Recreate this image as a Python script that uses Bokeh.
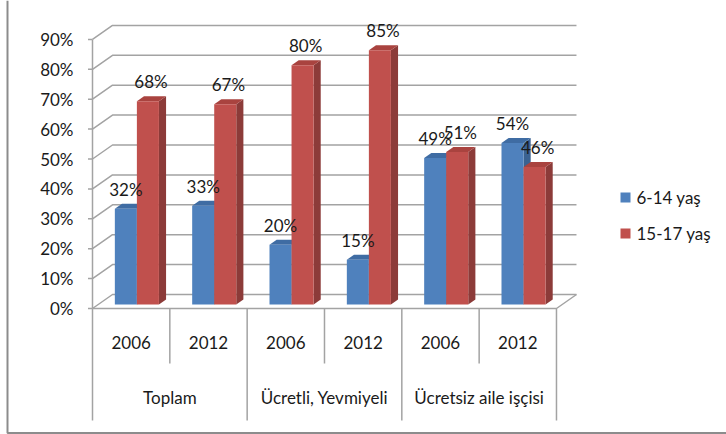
import numpy as np
from bokeh.plotting import figure
from bokeh.models import Range1d
from bokeh.embed import file_html
from bokeh.resources import INLINE
from bokeh.core.properties import value

# ---------------- data ----------------
groups = ["Toplam", "Ücretli, Yevmiyeli", "Ücretsiz aile işçisi"]
years = ["2006", "2012", "2006", "2012", "2006", "2012"]
series_names = ["6-14 yaş", "15-17 yaş"]
age_6_14 = [0.32, 0.33, 0.20, 0.15, 0.49, 0.54]
age_15_17 = [0.68, 0.67, 0.80, 0.85, 0.51, 0.46]
y_ticks = [0.0, 0.1, 0.2, 0.3, 0.4, 0.5, 0.6, 0.7, 0.8, 0.9]
y_tick_labels = ["0%", "10%", "20%", "30%", "40%", "50%", "60%", "70%", "80%", "90%"]

# ---------------- styling / geometry ----------------
FONT = value("Lato")
FS = "17px"
PX_X = 77.33          # pixels per category
PX_Y = 299.0          # pixels per 100%
X0_PX, Y0_PX = 92.0, 308.0   # front-axis origin within the frame
W, H = 726, 434
DX = 20.0 / PX_X      # depth vector (data units)
DY = 14.0 / PX_Y
D0 = 0.286            # bar front depth
DD = 0.357            # bar depth length
BW = 0.285            # bar width (category units)

BLUE = ("#4F81BD", "#3A6291", "#3F6CA3")   # front, side, top
RED = ("#C0504D", "#8C3B39", "#A9433F")
GRID = "#a3a3a3"
TXT = "#1a1a1a"

p = figure(width=W, height=H, output_backend="svg", toolbar_location=None,
           x_axis_location=None, y_axis_location=None, min_border=0,
           x_range=Range1d(-X0_PX / PX_X, (W - X0_PX) / PX_X),
           y_range=Range1d(-(H - Y0_PX) / PX_Y, Y0_PX / PX_Y))
p.outline_line_color = None
p.xgrid.visible = False
p.ygrid.visible = False
p.background_fill_color = "white"
p.border_fill_color = "white"

n = len(years)

# back wall grid + left wall diagonals
for t in y_ticks:
    p.line([0, DX, n + DX], [t, t + DY, t + DY], line_color=GRID, line_width=1.5)
    p.line([-4.5 / PX_X, 0], [t, t], line_color=GRID, line_width=1.5)
# value axis line
p.line([0, 0], [0, y_ticks[-1]], line_color=GRID, line_width=1.5)
# floor front edge and right edge
p.line([0, n, n + DX], [0, 0, DY], line_color=GRID, line_width=1.5)

# category dividers
for i in range(n + 1):
    depth = -112 / PX_Y if i % 2 == 0 else -55 / PX_Y
    p.line([i, i], [0, depth], line_color=GRID, line_width=1.5)

# bars
xs, ys, cols = [], [], []
lab_x, lab_y, lab_t = [], [], []
for i in range(n):
    for k, (vals, pal) in enumerate(((age_6_14, BLUE), (age_15_17, RED))):
        v = vals[i]
        left = i + 0.5 - BW + k * BW
        x0 = left + D0 * DX
        y0 = D0 * DY
        x1 = x0 + BW
        ddx, ddy = DD * DX, DD * DY
        # side
        xs.append([x1, x1 + ddx, x1 + ddx, x1]); ys.append([y0, y0 + ddy, y0 + v + ddy, y0 + v]); cols.append(pal[1])
        # top
        xs.append([x0, x1, x1 + ddx, x0 + ddx]); ys.append([y0 + v, y0 + v, y0 + v + ddy, y0 + v + ddy]); cols.append(pal[2])
        # front
        xs.append([x0, x1, x1, x0]); ys.append([y0, y0, y0 + v, y0 + v]); cols.append(pal[0])
        lab_x.append((x0 + x1) / 2 + (0.04 if k == 1 else 0.0))
        lab_y.append(y0 + v + 19.5 / PX_Y)
        lab_t.append(f"{round(v * 100)}%")

p.patches(xs, ys, fill_color=cols, line_color=None)

# data labels
p.text(lab_x, lab_y, text=lab_t, text_font=FONT, text_font_size=FS, text_color=TXT,
       text_align="center", text_baseline="middle")

# y tick labels
p.text([-19 / PX_X] * len(y_ticks), y_ticks, text=y_tick_labels, text_font=FONT,
       text_font_size=FS, text_color=TXT, text_align="right", text_baseline="middle")

# year labels
p.text([i + 0.5 for i in range(n)], [-34 / PX_Y] * n, text=years, text_font=FONT,
       text_font_size=FS, text_color=TXT, text_align="center", text_baseline="middle")
# group labels
p.text([2 * g + 1 for g in range(len(groups))], [-89 / PX_Y] * len(groups), text=groups,
       text_font=FONT, text_font_size=FS, text_color=TXT, text_align="center", text_baseline="middle")

# legend
leg_x = (625 - 92) / PX_X
leg_y = [(308 - 197) / PX_Y, (308 - 233) / PX_Y]
p.scatter([leg_x] * 2, leg_y, marker="square", size=10, fill_color=[BLUE[0], RED[0]], line_color=None)
p.text([(636 - 92) / PX_X] * 2, leg_y, text=series_names, text_font=FONT, text_font_size=FS,
       text_color=TXT, text_align="left", text_baseline="middle")

# chart border (left and bottom visible)
bx = (7 - 92) / PX_X
by = (308 - 432.5) / PX_Y
p.line([bx, bx, (W - 92) / PX_X], [Y0_PX / PX_Y, by, by], line_color="#8c8c8c", line_width=2)

open("out.html", "w").write(file_html(p, INLINE))
